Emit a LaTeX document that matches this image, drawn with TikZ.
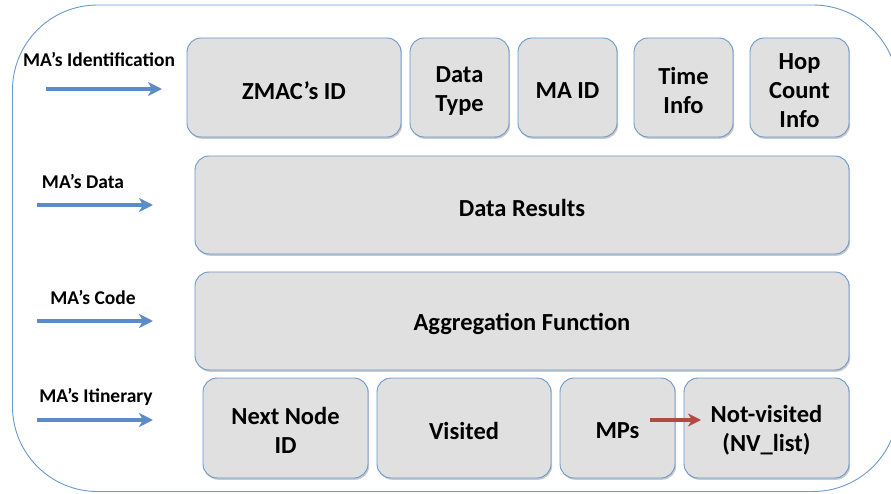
\documentclass[tikz,border=0pt]{standalone}
\usepackage{fontspec}
\setmainfont{Carlito}
\usetikzlibrary{arrows.meta,shadows}
\definecolor{edgeblue}{HTML}{6A98CC}
\definecolor{cellgray}{HTML}{E0E0E0}
\definecolor{arrowblue}{HTML}{5B8CC7}
\definecolor{arrowred}{HTML}{B24A40}
\tikzset{
  cell/.style={draw=edgeblue, fill=cellgray, line width=0.9pt,
    rounded corners=14pt, inner sep=0pt,
    drop shadow={shadow xshift=1.2pt, shadow yshift=-1.8pt, opacity=0.35, fill=black!60}},
  celltext/.style={align=center, inner sep=0pt,
    font=\bfseries\fontsize{24.5}{29}\selectfont},
  fieldlabel/.style={font=\bfseries\fontsize{19.5}{22}\selectfont, inner sep=0pt},
  feed/.style={draw=arrowblue, line width=3.6pt,
    -{Stealth[length=14pt,width=14pt,inset=4pt]}},
  pass/.style={draw=arrowred, line width=3.2pt,
    -{Stealth[length=13pt,width=13pt,inset=4pt]}}
}
\begin{document}
\begin{tikzpicture}[x=1pt,y=-1pt]
\useasboundingbox (0,0) rectangle (891,494);
\begin{scope}
\clip (0,0) rectangle (891,494);
% outer frame of the agent record
\draw[edgeblue, line width=0.9pt, rounded corners=85pt] (12.5,5) rectangle (898,491.5);
\end{scope}

% identification row
\node[cell, minimum width=214pt, minimum height=99pt] (zmac) at (294,87.5) {};
\node[cell, minimum width=99pt, minimum height=99pt] (dtype) at (459.5,87.5) {};
\node[cell, minimum width=99pt, minimum height=99pt] (maid) at (567.5,87.5) {};
\node[cell, minimum width=99pt, minimum height=99pt] (time) at (683.5,87.5) {};
\node[cell, minimum width=99pt, minimum height=99pt] (hop) at (799.5,87.5) {};

% data and code rows
\node[cell, minimum width=654pt, minimum height=98pt] (data) at (522,205) {};
\node[cell, minimum width=654pt, minimum height=98pt] (agg) at (522,321) {};

% itinerary row
\node[cell, minimum width=165pt, minimum height=100pt] (next) at (285.5,428) {};
\node[cell, minimum width=174pt, minimum height=100pt] (visited) at (464,428) {};
\node[cell, minimum width=115pt, minimum height=100pt] (mps) at (617.5,428) {};
\node[cell, minimum width=165pt, minimum height=100pt] (nv) at (766.5,428) {};

% field names, set a little below each cell's centre
\node[celltext] (tzmac) at ([yshift=-3pt]zmac.center) {ZMAC’s ID};
\node[celltext] (tdtype) at ([yshift=-3pt]dtype.center) {Data\\Type};
\node[celltext] (tmaid) at ([yshift=-3pt]maid.center) {MA ID};
\node[celltext] (ttime) at ([yshift=-3pt]time.center) {Time\\Info};
\node[celltext] (thop) at ([yshift=-3pt]hop.center) {Hop\\Count\\Info};
\node[celltext] (tdata) at ([yshift=-3pt]data.center) {Data Results};
\node[celltext] (tagg) at ([yshift=-3pt]agg.center) {Aggregation Function};
\node[celltext] (tnext) at ([yshift=-2pt]next.center) {Next Node\\ID};
\node[celltext] (tvisited) at ([yshift=-3pt]visited.center) {Visited};
\node[celltext] (tmps) at ([yshift=-3pt]mps.center) {MPs};
\node[celltext] (tnv) at ([yshift=-2pt]nv.center) {Not-visited\\(NV\_list)};

% field labels and their arrows
\node[fieldlabel] (lid) at (99,59) {MA’s Identification};
\node[fieldlabel] (ldata) at (83,181) {MA’s Data};
\node[fieldlabel] (lcode) at (93,297) {MA’s Code};
\node[fieldlabel] (litin) at (96,397) {MA’s Itinerary};

\coordinate (aid0) at (46,89);   \coordinate (aid1) at (162,89);
\coordinate (adata0) at (37,205); \coordinate (adata1) at (153,205);
\coordinate (acode0) at (37,321); \coordinate (acode1) at (153,321);
\coordinate (aitin0) at (37,420); \coordinate (aitin1) at (153,420);
\draw[feed] (aid0) -- (aid1);
\draw[feed] (adata0) -- (adata1);
\draw[feed] (acode0) -- (acode1);
\draw[feed] (aitin0) -- (aitin1);

% MPs feed the not-visited list
\coordinate (mpsout) at (650,420);
\coordinate (nvin) at (701,420);
\draw[pass] (mpsout) -- (nvin);
\end{tikzpicture}
\end{document}
